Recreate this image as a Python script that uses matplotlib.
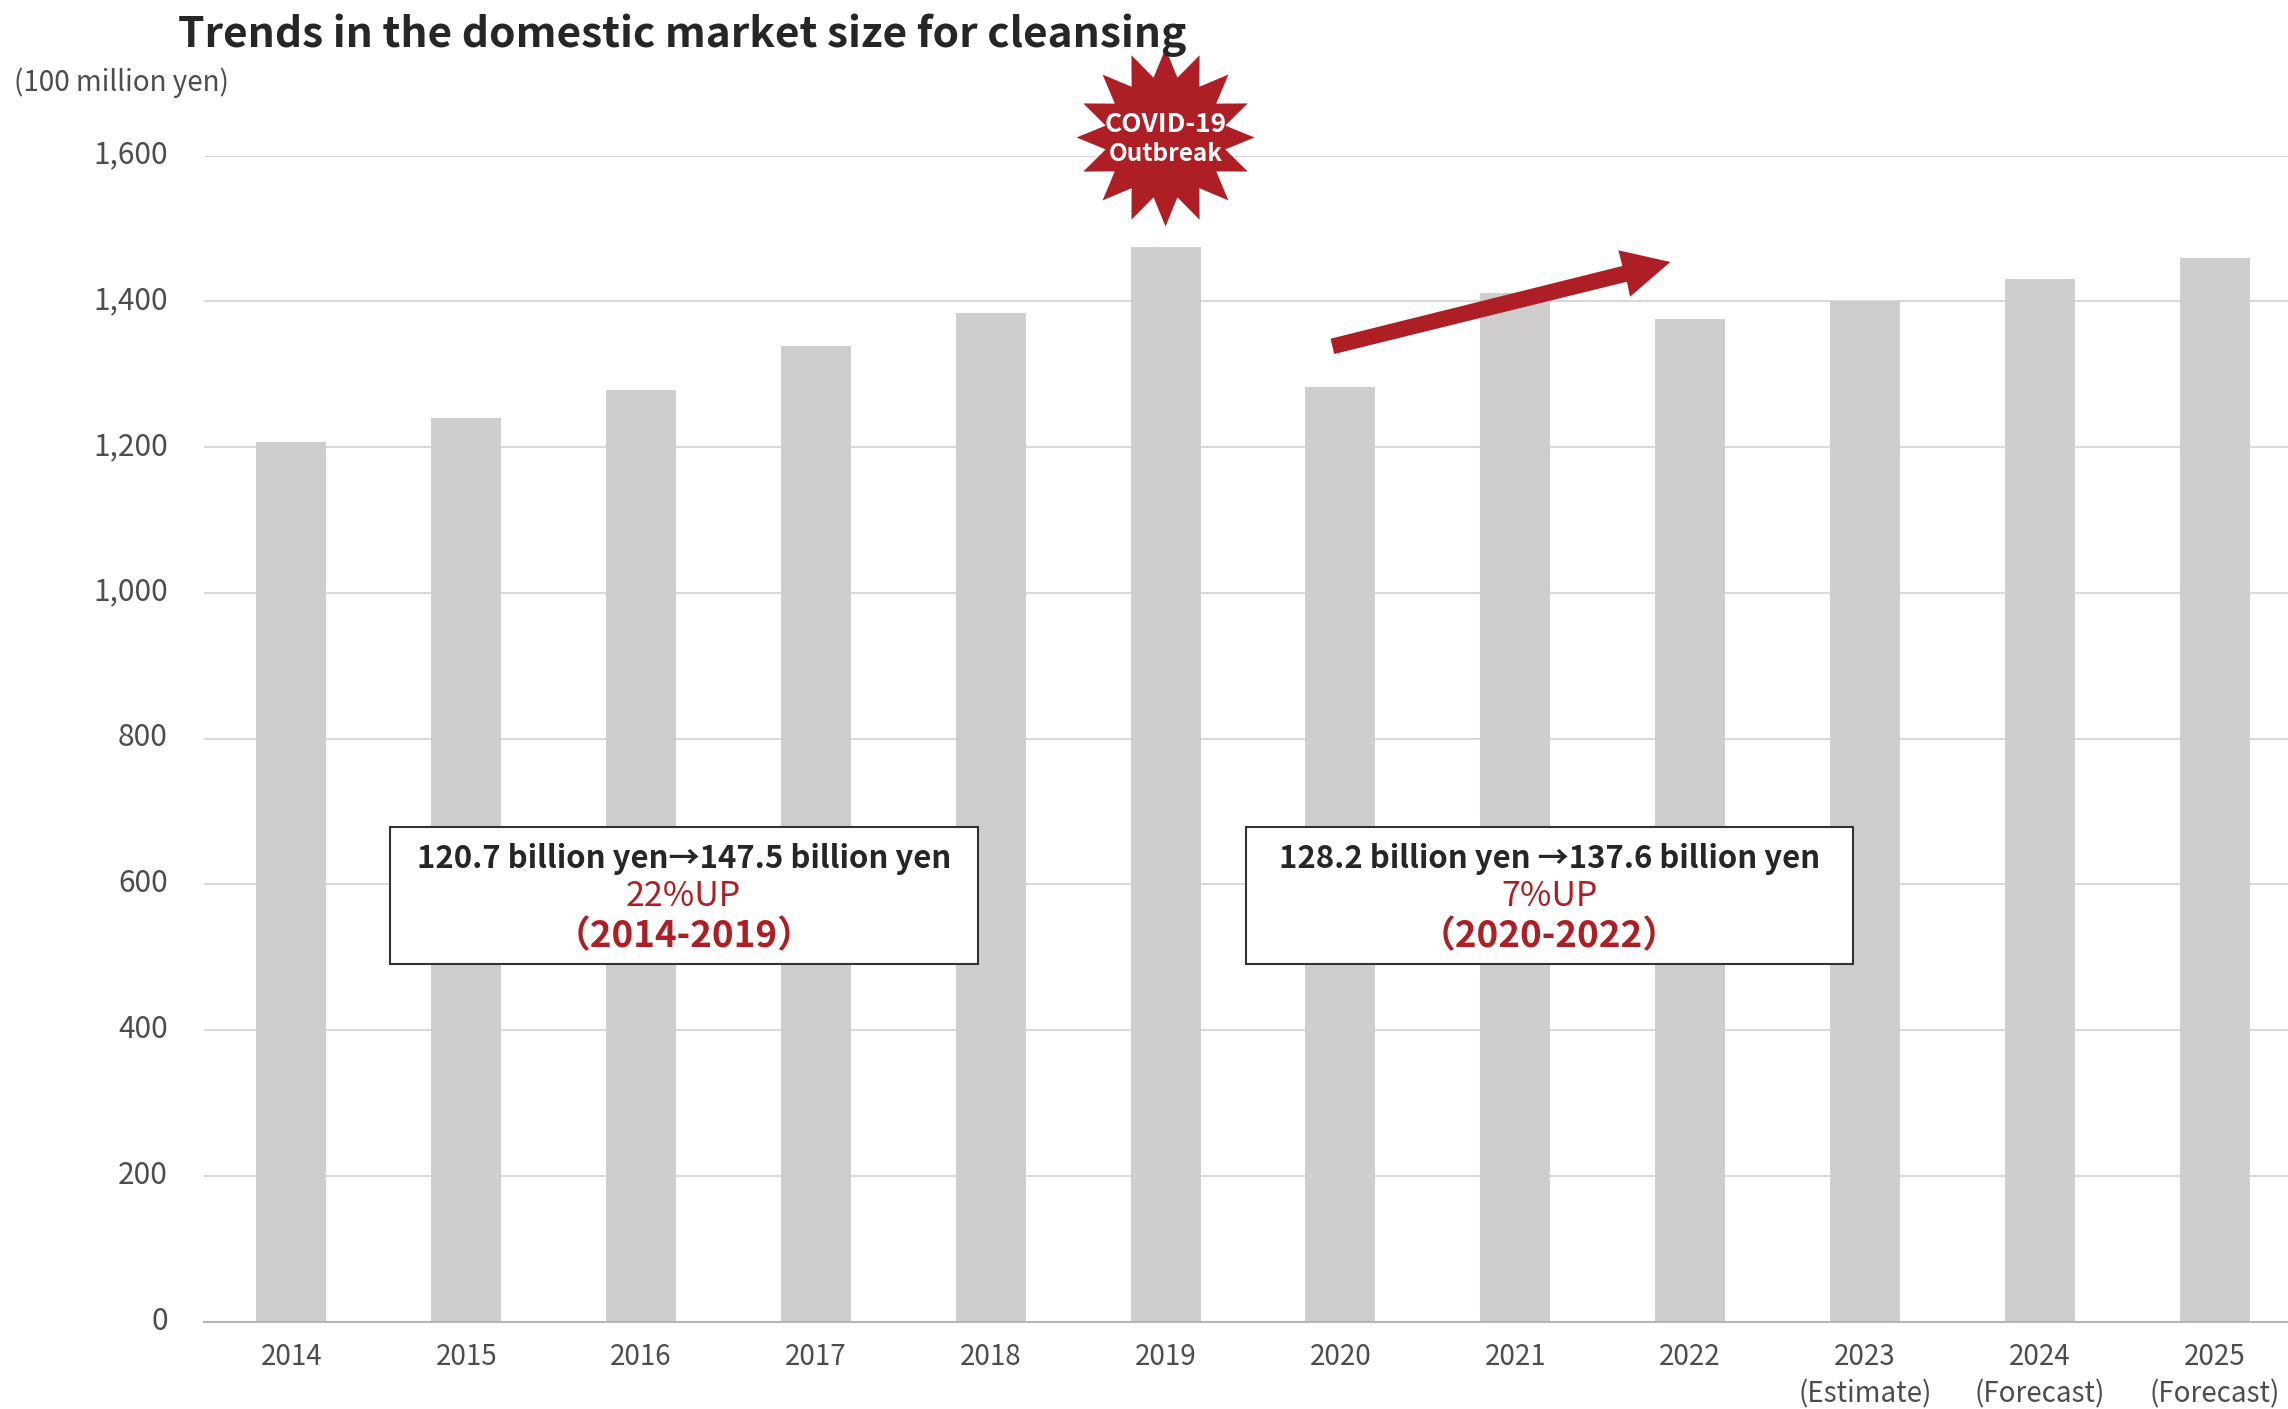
import numpy as np
import matplotlib
matplotlib.use('Agg')
import matplotlib.pyplot as plt
from matplotlib.patches import Polygon, Rectangle
from matplotlib.transforms import ScaledTranslation

plt.rcParams['font.family'] = ['Noto Sans CJK JP', 'DejaVu Sans']

years = ['2014', '2015', '2016', '2017', '2018', '2019', '2020', '2021', '2022',
         '2023\n(Estimate)', '2024\n(Forecast)', '2025\n(Forecast)']
market_size = [1207, 1240, 1278, 1338, 1384, 1475, 1282, 1411, 1376, 1400, 1430, 1460]
y_ticks = [0, 200, 400, 600, 800, 1000, 1200, 1400, 1600]

DARK = '#262626'
RED = '#ae1e25'
W, H = 2288, 1409

fig = plt.figure(figsize=(W / 100, H / 100), dpi=100, facecolor='white')
ax = fig.add_axes([204 / W, 1 - 1321.5 / H, (W - 204) / W, (1321.5 - 155.5) / H])

x = np.arange(len(years))
ax.bar(x, market_size, width=0.4, color='#cfcdcd', zorder=3)

ax.set_xlim(-0.5, 11.42)
ax.set_ylim(0, 1600)
ax.set_xticks(x, years)
ax.set_yticks(y_ticks, [f'{v:,}' for v in y_ticks])
ax.tick_params(axis='x', length=0, pad=15, labelsize=20, labelcolor='#4d4d4d')
ax.tick_params(axis='y', length=0, pad=26, labelsize=21.5, labelcolor='#4d4d4d')
for label in ax.get_xticklabels():
    label.set_linespacing(1.3)
# y labels sit a little above their gridlines
nudge = ScaledTranslation(0, 4 / 100, fig.dpi_scale_trans)
for label in ax.get_yticklabels():
    label.set_transform(label.get_transform() + nudge)
ax.grid(axis='y', color='#d9d9d9', lw=1.5, zorder=1)
ax.set_axisbelow(True)
for side in ('top', 'right', 'left'):
    ax.spines[side].set_visible(False)
ax.spines['bottom'].set_color('#b5b5b5')
ax.spines['bottom'].set_linewidth(1.5)
ax.spines['bottom'].set_zorder(4)

# overlay in pixel units for the title and the callouts
over = fig.add_axes([0, 0, 1, 1], zorder=10)
over.set_xlim(0, W)
over.set_ylim(H, 0)
over.axis('off')

over.text(178, 35, 'Trends in the domestic market size for cleansing',
          fontsize=30.55, fontweight='bold', color=DARK, va='center')
over.text(14, 83, '(100 million yen)', fontsize=20, color='#4d4d4d', va='center')

# 16 point burst above 2019
angles = np.pi / 2 - np.arange(32) * np.pi / 16
radii = np.where(np.arange(32) % 2 == 0, 89, 61)
star_x = 1165.5 + radii * np.cos(angles)
star_y = 137.5 - radii * np.sin(angles)
over.add_patch(Polygon(np.column_stack([star_x, star_y]), closed=True, fc=RED, ec='none'))
over.text(1165.5, 124, 'COVID-19', fontsize=19, fontweight='bold', color='white',
          ha='center', va='center')
over.text(1165.5, 154, 'Outbreak', fontsize=17.5, fontweight='bold', color='white',
          ha='center', va='center')

# recovery arrow
arrow = [(1330.6, 338.7), (1622.4, 266), (1618.4, 250.3), (1670.4, 262),
         (1630, 296.7), (1627, 281.7), (1334.2, 354)]
over.add_patch(Polygon(arrow, closed=True, fc=RED, ec='none'))


def callout(left, right, line1, line2, line3):
    over.add_patch(Rectangle((left, 827), right - left, 137, fc='white', ec='#333333', lw=1.5))
    mid = (left + right) / 2
    over.text(mid, 859, line1, fontsize=22.4, fontweight='bold', color=DARK, ha='center', va='center')
    over.text(mid, 896, line2, fontsize=24.5, color=RED, ha='center', va='center')
    over.text(mid, 937, line3, fontsize=26.5, fontweight='bold', color=RED, ha='center', va='center')


callout(390, 977.5, '120.7 billion yen→147.5 billion yen', '22%UP', '（2014-2019）')
callout(1246, 1853, '128.2 billion yen →137.6 billion yen', '7%UP', '（2020-2022）')

fig.savefig('out.png', dpi=100)
